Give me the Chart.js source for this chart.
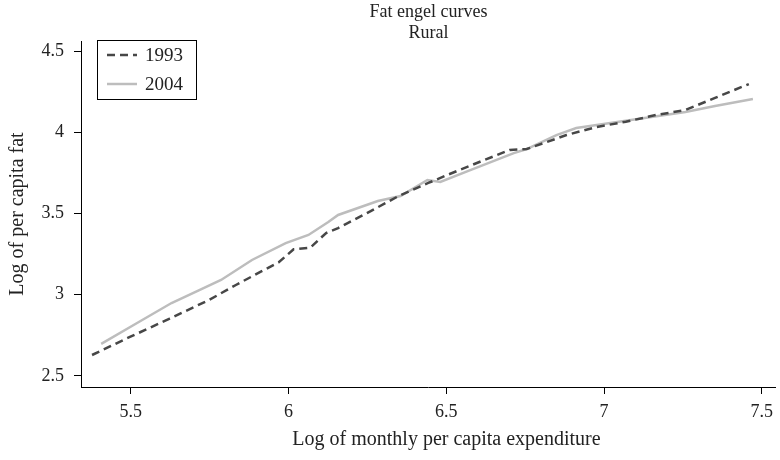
<!DOCTYPE html>
<html>
<head>
<meta charset="utf-8">
<script src="https://cdn.jsdelivr.net/npm/chart.js@4.4.1/dist/chart.umd.min.js"></script>
<style>
html, body { margin: 0; padding: 0; background: #fff; }
#wrap { width: 780px; height: 460px; }
</style>
</head>
<body>
<div id="wrap"><canvas id="engel" width="780" height="460"></canvas></div>
<script>
// values
const x1993 = [5.377, 5.497, 5.623, 5.748, 5.833, 5.912, 5.969, 6.016, 6.069, 6.119, 6.157, 6.25, 6.349, 6.443, 6.503, 6.597, 6.701, 6.755, 6.881, 6.975, 7.069, 7.164, 7.258, 7.352, 7.459];
const y1993 = [2.629, 2.74, 2.853, 2.968, 3.06, 3.142, 3.20, 3.28, 3.29, 3.38, 3.41, 3.504, 3.608, 3.688, 3.737, 3.811, 3.891, 3.897, 3.983, 4.032, 4.065, 4.106, 4.137, 4.212, 4.297];
const x2004 = [5.406, 5.528, 5.629, 5.717, 5.786, 5.884, 5.991, 6.063, 6.126, 6.157, 6.283, 6.355, 6.44, 6.481, 6.566, 6.714, 6.755, 6.849, 6.912, 7.069, 7.258, 7.352, 7.472];
const y2004 = [2.697, 2.835, 2.949, 3.029, 3.091, 3.214, 3.318, 3.368, 3.448, 3.491, 3.577, 3.608, 3.706, 3.694, 3.759, 3.872, 3.897, 3.983, 4.026, 4.071, 4.125, 4.162, 4.205];

const xTicks = [5.5, 6, 6.5, 7, 7.5];
const yTicks = [2.5, 3, 3.5, 4, 4.5];
const seriesLabels = ['1993', '2004'];
const titleLines = ['Fat engel curves', 'Rural'];
const xTitle = 'Log of monthly per capita expenditure';
const yTitle = 'Log of per capita fat';

const serif = '"Liberation Serif", "Times New Roman", serif';
const ink = '#222';
Chart.defaults.font.family = serif;
Chart.defaults.color = ink;

const toPoints = (xs, ys) => xs.map((x, i) => ({ x: x, y: ys[i] }));

// titles, x title and the boxed legend
const annotate = {
  id: 'annotate',
  afterDraw(chart) {
    const { ctx, chartArea: a } = chart;
    const cx = (a.left + a.right) / 2;
    ctx.save();
    ctx.fillStyle = ink;
    ctx.textAlign = 'center';
    ctx.textBaseline = 'middle';
    ctx.font = '18px ' + serif;
    ctx.fillText(titleLines[0], cx, 12);
    ctx.fillText(titleLines[1], cx, 33);
    ctx.font = '20px ' + serif;
    ctx.fillText(xTitle, cx + 18, 440);

    // legend
    ctx.strokeStyle = '#000';
    ctx.lineWidth = 1;
    ctx.strokeRect(97.5, 40.5, 99, 59);
    ctx.font = '19px ' + serif;
    ctx.textAlign = 'left';
    chart.data.datasets.forEach((ds, i) => {
      const y = 55 + i * 29;
      ctx.beginPath();
      ctx.strokeStyle = ds.borderColor;
      ctx.lineWidth = ds.borderWidth;
      ctx.setLineDash(ds.borderDash || []);
      ctx.moveTo(107, y);
      ctx.lineTo(137, y);
      ctx.stroke();
      ctx.setLineDash([]);
      ctx.fillText(ds.label, 145, y + 1);
    });
    ctx.restore();
  }
};

const chart = new Chart(document.getElementById('engel').getContext('2d'), {
  type: 'line',
  data: {
    datasets: [{
      label: seriesLabels[0],
      data: toPoints(x1993, y1993),
      borderColor: '#474747',
      borderWidth: 2.5,
      borderDash: [8, 5],
      pointRadius: 0,
      tension: 0,
      fill: false
    }, {
      label: seriesLabels[1],
      data: toPoints(x2004, y2004),
      borderColor: '#bdbdbd',
      borderWidth: 2.5,
      pointRadius: 0,
      tension: 0,
      fill: false
    }]
  },
  options: {
    responsive: false,
    animation: false,
    devicePixelRatio: 1,
    layout: { padding: { top: 41, left: 0, right: 0, bottom: 0 } },
    plugins: {
      legend: { display: false },
      tooltip: { enabled: false },
      title: { display: false }
    },
    scales: {
      x: {
        type: 'linear',
        min: 5.342,
        max: 7.545,
        afterFit: s => { s.height = 73; },
        afterBuildTicks: s => { s.ticks = xTicks.map(v => ({ value: v })); },
        ticks: { font: { size: 18 }, color: ink, padding: 7, maxRotation: 0, callback: v => String(v) },
        grid: { drawOnChartArea: false, drawTicks: true, tickLength: 7, color: '#000' },
        border: { display: true, color: '#000', width: 1 }
      },
      y: {
        type: 'linear',
        min: 2.432,
        max: 4.562,
        afterFit: s => { s.width = 81; },
        afterBuildTicks: s => { s.ticks = yTicks.map(v => ({ value: v })); },
        ticks: { font: { size: 18 }, color: ink, padding: 10, callback: v => String(v) },
        grid: { drawOnChartArea: false, drawTicks: true, tickLength: 7, color: '#000' },
        border: { display: true, color: '#000', width: 1 },
        title: { display: true, text: yTitle, font: { size: 20 }, color: ink, padding: { top: 6, bottom: 0 } }
      }
    }
  },
  plugins: [annotate]
});
</script>
</body>
</html>
